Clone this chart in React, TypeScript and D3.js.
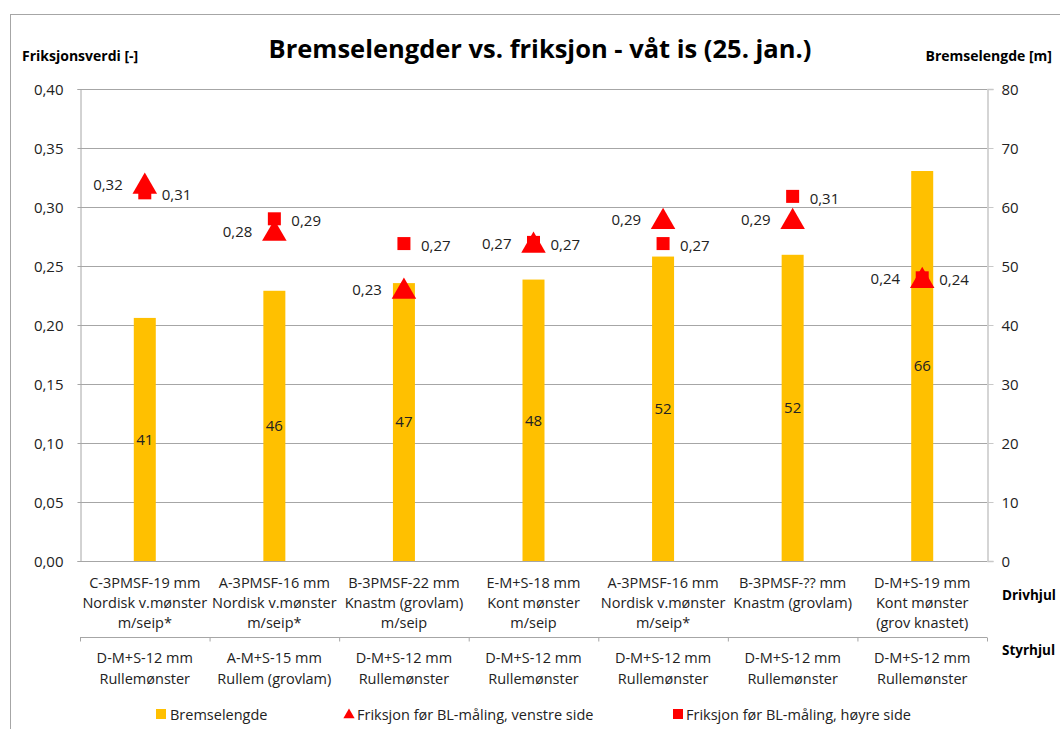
import * as d3 from 'd3';
import { useEffect, useRef } from 'react';

const driveWheel = [
    ['C-3PMSF-19 mm', 'Nordisk v.mønster', 'm/seip*'],
    ['A-3PMSF-16 mm', 'Nordisk v.mønster', 'm/seip*'],
    ['B-3PMSF-22 mm', 'Knastm (grovlam)', 'm/seip'],
    ['E-M+S-18 mm', 'Kont mønster', 'm/seip'],
    ['A-3PMSF-16 mm', 'Nordisk v.mønster', 'm/seip*'],
    ['B-3PMSF-?? mm', 'Knastm (grovlam)'],
    ['D-M+S-19 mm', 'Kont mønster', '(grov knastet)'],
];
const steerWheel = [
    ['D-M+S-12 mm', 'Rullemønster'],
    ['A-M+S-15 mm', 'Rullem (grovlam)'],
    ['D-M+S-12 mm', 'Rullemønster'],
    ['D-M+S-12 mm', 'Rullemønster'],
    ['D-M+S-12 mm', 'Rullemønster'],
    ['D-M+S-12 mm', 'Rullemønster'],
    ['D-M+S-12 mm', 'Rullemønster'],
];
const brakeLength = [41.2, 45.8, 47.1, 47.7, 51.6, 51.9, 66.1];
const frictionLeft = [0.319, 0.279, 0.23, 0.269, 0.289, 0.289, 0.239];
const frictionRight = [0.312, 0.29, 0.269, 0.27, 0.269, 0.309, 0.24];
const leftTicks = [0, 0.05, 0.1, 0.15, 0.2, 0.25, 0.3, 0.35, 0.4];
const rightTicks = [0, 10, 20, 30, 40, 50, 60, 70, 80];

const FONT = '"Open Sans", Lato, sans-serif';
const fmt = (v: number) => v.toFixed(2).replace('.', ',');

export default function App() {
    const svgRef = useRef<SVGSVGElement>(null);
    const W = 1060;
    const H = 729;
    const plot = { left: 80, right: 987, top: 89, bottom: 561 };

    useEffect(() => {
        const svg = d3.select(svgRef.current);
        svg.selectAll('*').remove();
        svg.style('font-family', FONT);

        const idx = d3.range(driveWheel.length);
        const x = d3.scaleBand<number>().domain(idx).range([plot.left, plot.right]).padding(0);
        const cx = (i: number) => (x(i) || 0) + x.bandwidth() / 2;
        const yL = d3.scaleLinear().domain([0, 0.4]).range([plot.bottom, plot.top]);
        const yR = d3.scaleLinear().domain([0, 80]).range([plot.bottom, plot.top]);

        svg.append('rect')
            .attr('width', W).attr('height', H).attr('fill', 'white');
        svg.append('rect')
            .attr('x', 10.5).attr('y', 14.5)
            .attr('width', W).attr('height', H)
            .attr('fill', 'none').attr('stroke', '#a6a6a6');

        // gridlines
        svg.append('g').selectAll('line')
            .data(leftTicks.slice(1))
            .enter().append('line')
            .attr('x1', plot.left).attr('x2', plot.right)
            .attr('y1', (d) => Math.round(yL(d)) + 0.5)
            .attr('y2', (d) => Math.round(yL(d)) + 0.5)
            .attr('stroke', '#a6a6a6');

        // left axis
        const gl = svg.append('g')
            .attr('transform', `translate(${plot.left + 0.5},0)`)
            .call(d3.axisLeft(yL).tickValues(leftTicks).tickSize(3).tickPadding(14).tickFormat((d) => fmt(+d)));
        gl.select('.domain').attr('stroke', '#a6a6a6');
        gl.selectAll('.tick line').attr('stroke', '#a6a6a6');
        gl.selectAll('text').style('font-size', '15px').style('font-family', FONT).attr('fill', '#222').attr('dy', '0.35em');

        // right axis
        const gr = svg.append('g')
            .attr('transform', `translate(${plot.right + 0.5},0)`)
            .call(d3.axisRight(yR).tickValues(rightTicks).tickSize(6).tickPadding(8));
        gr.select('.domain').attr('stroke', '#c8c8c8').attr('stroke-width', 1.5);
        gr.selectAll('.tick line').attr('stroke', '#c8c8c8');
        gr.selectAll('text').style('font-size', '15px').style('font-family', FONT).attr('fill', '#222').attr('dy', '0.35em');

        // x axis line
        svg.append('line')
            .attr('x1', plot.left).attr('x2', plot.right)
            .attr('y1', plot.bottom + 0.5).attr('y2', plot.bottom + 0.5)
            .attr('stroke', '#a6a6a6');

        // bars
        const barW = 22;
        svg.append('g').selectAll('rect')
            .data(brakeLength)
            .enter().append('rect')
            .attr('x', (_, i) => cx(i) - barW / 2)
            .attr('y', (d) => yR(d))
            .attr('width', barW)
            .attr('height', (d) => plot.bottom - yR(d))
            .attr('fill', '#FFC000');

        svg.append('g').selectAll('text')
            .data(brakeLength)
            .enter().append('text')
            .attr('x', (_, i) => cx(i))
            .attr('y', (d) => (yR(d) + plot.bottom) / 2)
            .attr('dy', '0.35em')
            .attr('text-anchor', 'middle')
            .style('font-size', '15px')
            .attr('fill', '#222')
            .text((d) => Math.round(d));

        // squares (right side)
        const sq = 13;
        svg.append('g').selectAll('rect')
            .data(frictionRight)
            .enter().append('rect')
            .attr('x', (_, i) => cx(i) - sq / 2)
            .attr('y', (d) => yL(d) - sq / 2)
            .attr('width', sq).attr('height', sq)
            .attr('fill', '#FF0000');

        // triangles (left side)
        const tri = d3.symbol().type(d3.symbolTriangle).size(260);
        svg.append('g').selectAll('path')
            .data(frictionLeft)
            .enter().append('path')
            .attr('d', tri)
            .attr('transform', (d, i) => `translate(${cx(i)},${yL(d) + 2})`)
            .attr('fill', '#FF0000');

        svg.append('g').selectAll('text')
            .data(frictionLeft)
            .enter().append('text')
            .attr('x', (_, i) => cx(i) - 22)
            .attr('y', (d) => yL(d))
            .attr('dy', '0.35em')
            .attr('text-anchor', 'end')
            .style('font-size', '15px')
            .attr('fill', '#222')
            .text((d) => fmt(d));

        svg.append('g').selectAll('text')
            .data(frictionRight)
            .enter().append('text')
            .attr('x', (_, i) => cx(i) + 17)
            .attr('y', (d) => yL(d) + 2)
            .attr('dy', '0.35em')
            .attr('text-anchor', 'start')
            .style('font-size', '15px')
            .attr('fill', '#222')
            .text((d) => fmt(d));

        // category labels, drive wheel
        const drive = svg.append('g').selectAll('text')
            .data(driveWheel)
            .enter().append('text')
            .attr('text-anchor', 'middle')
            .style('font-size', '14.5px')
            .attr('fill', '#222');
        drive.each(function (lines, i) {
            d3.select(this).selectAll('tspan')
                .data(lines)
                .enter().append('tspan')
                .attr('x', cx(i))
                .attr('y', (_, j) => 588 + j * 20)
                .text((t) => t);
        });

        // separator between rows
        const sepY = 637.5;
        svg.append('line')
            .attr('x1', plot.left).attr('x2', plot.right)
            .attr('y1', sepY).attr('y2', sepY)
            .attr('stroke', '#a6a6a6');
        svg.append('g').selectAll('line')
            .data(d3.range(driveWheel.length + 1))
            .enter().append('line')
            .attr('x1', (i) => (i < driveWheel.length ? x(i) || 0 : plot.right) + 0.5)
            .attr('x2', (i) => (i < driveWheel.length ? x(i) || 0 : plot.right) + 0.5)
            .attr('y1', sepY).attr('y2', sepY + 4)
            .attr('stroke', '#a6a6a6');

        const steer = svg.append('g').selectAll('text')
            .data(steerWheel)
            .enter().append('text')
            .attr('text-anchor', 'middle')
            .style('font-size', '14.5px')
            .attr('fill', '#222');
        steer.each(function (lines, i) {
            d3.select(this).selectAll('tspan')
                .data(lines)
                .enter().append('tspan')
                .attr('x', cx(i))
                .attr('y', (_, j) => 663 + j * 21)
                .text((t) => t);
        });

        svg.append('text').attr('x', 1002).attr('y', 600)
            .style('font-size', '13.5px').style('font-weight', '700').text('Drivhjul');
        svg.append('text').attr('x', 1002).attr('y', 655)
            .style('font-size', '13.5px').style('font-weight', '700').text('Styrhjul');

        // titles
        svg.append('text')
            .attr('x', 540).attr('y', 58)
            .attr('text-anchor', 'middle')
            .style('font-size', '25.5px').style('font-weight', '700')
            .text('Bremselengder vs. friksjon - våt is (25. jan.)');
        svg.append('text')
            .attr('x', 22).attr('y', 61)
            .style('font-size', '14px').style('font-weight', '700')
            .text('Friksjonsverdi [-]');
        svg.append('text')
            .attr('x', 1052).attr('y', 61)
            .attr('text-anchor', 'end')
            .style('font-size', '14px').style('font-weight', '700')
            .text('Bremselengde [m]');

        // legend
        const leg = svg.append('g').style('font-size', '14.5px').attr('fill', '#222');
        leg.append('rect').attr('x', 156).attr('y', 709).attr('width', 10).attr('height', 10).attr('fill', '#FFC000');
        leg.append('text').attr('x', 170).attr('y', 720).text('Bremselengde');
        leg.append('path')
            .attr('d', d3.symbol().type(d3.symbolTriangle).size(55)())
            .attr('transform', 'translate(349,715)')
            .attr('fill', '#FF0000');
        leg.append('text').attr('x', 357).attr('y', 720).text('Friksjon før BL-måling, venstre side');
        leg.append('rect').attr('x', 673).attr('y', 709).attr('width', 10).attr('height', 10).attr('fill', '#FF0000');
        leg.append('text').attr('x', 686).attr('y', 720).text('Friksjon før BL-måling, høyre side');
    }, []);

    return (
        <svg ref={svgRef} width={W} height={H} style={{ position: 'absolute', left: 0, top: 0 }}></svg>
    );
}
